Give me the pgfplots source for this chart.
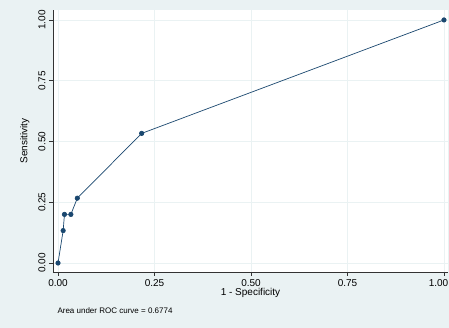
\documentclass[border=0pt]{standalone}
\usepackage{fontspec}
\setmainfont{Liberation Sans}
\usepackage{pgfplots}
\pgfplotsset{compat=1.18}
\definecolor{bgc}{HTML}{EAF2F3}
\definecolor{gridc}{HTML}{EAF2F3}
\definecolor{navy}{HTML}{1A476F}
\begin{document}
\begin{tikzpicture}
\useasboundingbox (-53pt,-56pt) rectangle (396pt,272pt);
\fill[bgc] (-53pt,-56pt) rectangle (396pt,272pt);
\begin{axis}[
  at={(0pt,0pt)}, anchor=south west,
  scale only axis, width=395pt, height=262pt,
  xmin=-0.013, xmax=1.0104, ymin=-0.037, ymax=1.041,
  axis x line*=bottom, axis y line*=left,
  axis line style={black!80, line width=0.8pt},
  axis background/.style={fill=white},
  xtick={0,0.25,0.5,0.75,1}, ytick={0,0.25,0.5,0.75,1},
  xticklabels={0.00,0.25,0.50,0.75,{\kern-11pt 1.00}},
  yticklabels={0.00,0.25,0.50,0.75,1.00},
  tick align=outside, major tick length=4pt,
  tick style={black!80, line width=0.6pt},
  grid=major, major grid style={gridc, line width=0.8pt},
  ticklabel style={font=\fontsize{10}{12}\selectfont},
  y tick label style={rotate=90, anchor=south, xshift=0pt},
  yticklabel shift=0pt,
  xticklabel shift=0pt,
  xlabel={1 - Specificity}, ylabel={Sensitivity},
  label style={font=\fontsize{10}{12}\selectfont},
  xlabel style={yshift=5pt},
  ylabel style={yshift=2pt},
  clip=false,
]
\addplot[navy, line width=0.7pt, mark=*, mark size=2.2pt, mark options={fill=navy}]
coordinates {(0,0) (0.0133,0.1333) (0.0167,0.2) (0.0333,0.2) (0.05,0.2667) (0.2167,0.5333) (1,1)};
\end{axis}
\node[anchor=west, font=\fontsize{8}{9}\selectfont] at (1pt,-39pt) {Area under ROC curve = 0.6774};
\end{tikzpicture}
\end{document}
